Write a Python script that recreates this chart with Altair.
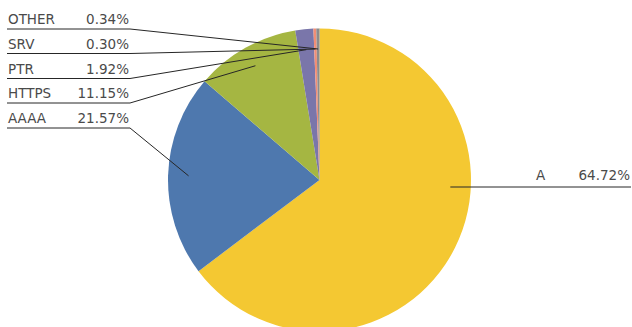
import math
import altair as alt
import pandas as pd

categories = ["A", "AAAA", "HTTPS", "PTR", "SRV", "OTHER"]
values = [64.72, 21.57, 11.15, 1.92, 0.30, 0.34]
labels_pct = ["64.72%", "21.57%", "11.15%", "1.92%", "0.30%", "0.34%"]
colors = ["#F4C832", "#4E78AE", "#A5B642", "#7A76AA", "#F28E75", "#8C8C8C"]

W, H = 632, 327
cx, cy, R = 319.5, 180.0, 151.5
anchor_r = 131.0

# label layout (underline y positions)
left_underline = {"OTHER": 29, "SRV": 53.5, "PTR": 78.5, "HTTPS": 103, "AAAA": 128}
right_underline = {"A": 187}

pie = pd.DataFrame({"cat": categories, "value": values, "order": list(range(len(categories)))})

total = sum(values)
cum = 0.0
rules, names, pcts = [], [], []
for c, v, p in zip(categories, values, labels_pct):
    mid = (cum + v / 2) / total * 2 * math.pi
    cum += v
    if c in left_underline:
        uy = left_underline[c]
        ax = cx + anchor_r * math.sin(mid)
        ay = cy - anchor_r * math.cos(mid)
        rules.append({"x": 7, "y": uy, "x2": 130, "y2": uy})
        rules.append({"x": 130, "y": uy, "x2": ax, "y2": ay})
        names.append({"x": 8, "y": uy - 5, "t": c})
        pcts.append({"x": 129, "y": uy - 5, "t": p})
    else:
        uy = right_underline[c]
        ax = cx + math.sqrt(anchor_r ** 2 - (uy - cy) ** 2)
        rules.append({"x": ax, "y": uy, "x2": 631, "y2": uy})
        names.append({"x": 536, "y": uy - 7, "t": c})
        pcts.append({"x": 630, "y": uy - 7, "t": p})

rules_df = pd.DataFrame(rules)
names_df = pd.DataFrame(names)
pcts_df = pd.DataFrame(pcts)

xs = alt.Scale(domain=[0, W], range=[0, W], nice=False, zero=False)
ys = alt.Scale(domain=[0, H], range=[0, H], nice=False, zero=False)

arc = alt.Chart(pie).mark_arc(outerRadius=R).encode(
    theta=alt.Theta("value:Q", stack=True),
    order=alt.Order("order:Q"),
    color=alt.Color("cat:N", scale=alt.Scale(domain=categories, range=colors), legend=None),
    x=alt.value(cx),
    y=alt.value(cy),
)

lines = alt.Chart(rules_df).mark_rule(color="#262626", strokeWidth=1).encode(
    x=alt.X("x:Q", scale=xs, axis=None),
    y=alt.Y("y:Q", scale=ys, axis=None),
    x2="x2:Q",
    y2="y2:Q",
)

font = "DejaVu Sans"
name_txt = alt.Chart(names_df).mark_text(
    align="left", baseline="alphabetic", font=font, fontSize=13.5, color="#4a4a4a"
).encode(
    x=alt.X("x:Q", scale=xs, axis=None),
    y=alt.Y("y:Q", scale=ys, axis=None),
    text="t:N",
)
pct_txt = alt.Chart(pcts_df).mark_text(
    align="right", baseline="alphabetic", font=font, fontSize=13.5, color="#4a4a4a"
).encode(
    x=alt.X("x:Q", scale=xs, axis=None),
    y=alt.Y("y:Q", scale=ys, axis=None),
    text="t:N",
)

chart = alt.layer(arc, lines, name_txt, pct_txt).properties(
    width=W, height=H, autosize=alt.AutoSizeParams(type="none"), padding=0
).configure_view(stroke=None)

chart.save("out.html", embed_options={"renderer": "svg", "actions": False})
